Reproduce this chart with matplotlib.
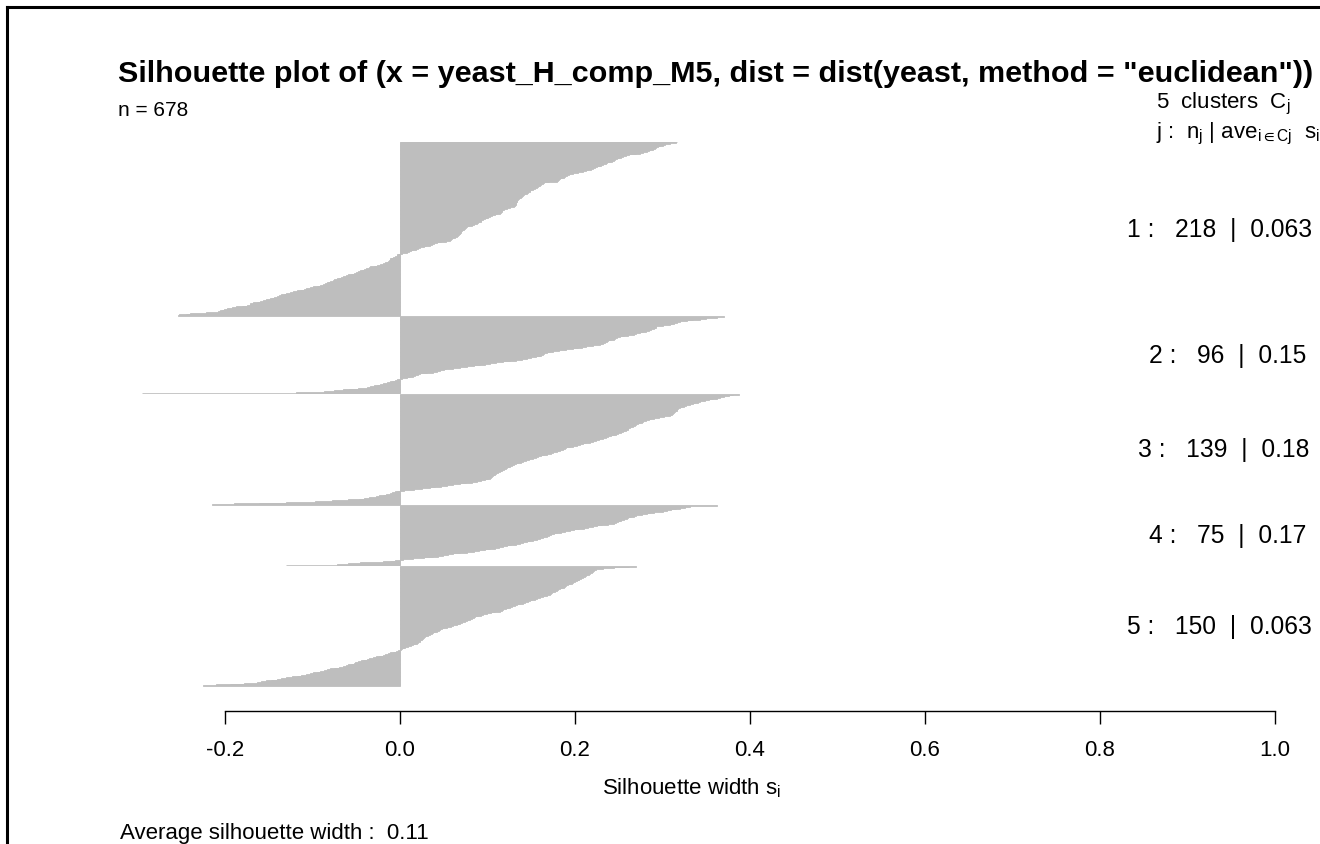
import matplotlib
matplotlib.use("Agg")
import matplotlib.pyplot as plt
import matplotlib.transforms as mtransforms
from matplotlib.lines import Line2D

plt.rcParams['font.family'] = ['Liberation Sans', 'DejaVu Sans']
plt.rcParams['mathtext.fontset'] = 'custom'
plt.rcParams['mathtext.rm'] = 'Liberation Sans'
plt.rcParams['mathtext.it'] = 'Liberation Sans'

# ---------------- data (silhouette widths, sorted within each cluster) ----------------
cluster_ids = [1, 2, 3, 4, 5]
cluster_sizes = [218, 96, 139, 75, 150]
cluster_avg = ["0.063", "0.15", "0.18", "0.17", "0.063"]
avg_width = "0.11"
n_total = 678

c1 = [0.316, 0.315, 0.309, 0.303, 0.300, 0.297, 0.295, 0.293, 0.291, 0.289,
      0.286, 0.284, 0.282, 0.278, 0.274, 0.270, 0.262, 0.258, 0.255, 0.252,
      0.250, 0.248, 0.246, 0.244, 0.242, 0.240, 0.237, 0.235, 0.232, 0.230,
      0.228, 0.225, 0.223, 0.221, 0.218, 0.215, 0.213, 0.209, 0.203, 0.198,
      0.194, 0.193, 0.191, 0.189, 0.187, 0.185, 0.183, 0.182, 0.180, 0.179,
      0.170, 0.164, 0.163, 0.161, 0.160, 0.159, 0.158, 0.156, 0.154, 0.152,
      0.150, 0.149, 0.148, 0.146, 0.145, 0.143, 0.142, 0.141, 0.139, 0.138,
      0.137, 0.136, 0.135, 0.134, 0.134, 0.134, 0.133, 0.133, 0.132, 0.131,
      0.131, 0.130, 0.126, 0.122, 0.119, 0.118, 0.117, 0.116, 0.115, 0.114,
      0.111, 0.108, 0.105, 0.103, 0.101, 0.099, 0.097, 0.095, 0.093, 0.092,
      0.090, 0.089, 0.088, 0.085, 0.082, 0.079, 0.076, 0.075, 0.074, 0.073,
      0.072, 0.071, 0.070, 0.070, 0.069, 0.068, 0.067, 0.066, 0.065, 0.063,
      0.061, 0.059, 0.058, 0.057, 0.052, 0.047, 0.042, 0.039, 0.037, 0.034,
      0.030, 0.027, 0.023, 0.020, 0.018, 0.015, 0.012, 0.010, 0.008, 0.002,
      -0.002, -0.003, -0.004, -0.006, -0.008, -0.010, -0.011, -0.012, -0.013, -0.014,
      -0.015, -0.017, -0.020, -0.023, -0.026, -0.030, -0.034, -0.036, -0.039, -0.041,
      -0.044, -0.046, -0.048, -0.050, -0.053, -0.056, -0.059, -0.062, -0.065, -0.067,
      -0.070, -0.072, -0.075, -0.077, -0.080, -0.082, -0.084, -0.086, -0.088, -0.091,
      -0.095, -0.099, -0.103, -0.107, -0.110, -0.114, -0.118, -0.122, -0.126, -0.130,
      -0.133, -0.136, -0.138, -0.141, -0.144, -0.146, -0.149, -0.153, -0.157, -0.160,
      -0.164, -0.168, -0.171, -0.172, -0.175, -0.181, -0.187, -0.192, -0.198, -0.201,
      -0.204, -0.206, -0.208, -0.222, -0.240, -0.245, -0.252, -0.254]

c2 = [0.370, 0.362, 0.350, 0.343, 0.335, 0.328, 0.320, 0.316, 0.313, 0.311,
      0.309, 0.300, 0.293, 0.292, 0.291, 0.290, 0.287, 0.284, 0.281, 0.278,
      0.274, 0.270, 0.267, 0.261, 0.256, 0.251, 0.248, 0.246, 0.244, 0.241,
      0.238, 0.236, 0.234, 0.232, 0.230, 0.229, 0.221, 0.213, 0.208, 0.203,
      0.198, 0.190, 0.182, 0.175, 0.171, 0.168, 0.164, 0.163, 0.161, 0.160,
      0.155, 0.150, 0.145, 0.139, 0.133, 0.126, 0.118, 0.110, 0.103, 0.097,
      0.091, 0.084, 0.076, 0.068, 0.060, 0.053, 0.050, 0.046, 0.042, 0.038,
      0.031, 0.023, 0.020, 0.017, 0.015, 0.011, 0.008, 0.002,
      -0.003, -0.006, -0.009, -0.012, -0.015, -0.019, -0.023, -0.026, -0.030, -0.034,
      -0.038, -0.048, -0.058, -0.065, -0.076, -0.087, -0.119, -0.295]

c3 = [0.387, 0.381, 0.376, 0.370, 0.366, 0.362, 0.358, 0.353, 0.348, 0.343,
      0.340, 0.337, 0.335, 0.331, 0.327, 0.324, 0.322, 0.320, 0.318, 0.317,
      0.316, 0.315, 0.314, 0.313, 0.312, 0.311, 0.310, 0.309, 0.302, 0.296,
      0.290, 0.287, 0.284, 0.281, 0.278, 0.276, 0.274, 0.272, 0.270, 0.268,
      0.266, 0.264, 0.263, 0.261, 0.260, 0.258, 0.256, 0.255, 0.252, 0.249,
      0.247, 0.244, 0.241, 0.238, 0.235, 0.232, 0.229, 0.227, 0.224, 0.221,
      0.217, 0.213, 0.209, 0.206, 0.202, 0.198, 0.194, 0.190, 0.188, 0.186,
      0.183, 0.181, 0.179, 0.175, 0.172, 0.168, 0.164, 0.161, 0.158, 0.155,
      0.152, 0.149, 0.147, 0.144, 0.141, 0.138, 0.135, 0.133, 0.130, 0.128,
      0.126, 0.124, 0.122, 0.121, 0.119, 0.117, 0.115, 0.114, 0.112, 0.110,
      0.108, 0.107, 0.106, 0.105, 0.104, 0.103, 0.101, 0.097, 0.093, 0.088,
      0.082, 0.075, 0.068, 0.061, 0.054, 0.047, 0.040, 0.034, 0.025, 0.016, 0.004,
      -0.003, -0.006, -0.009, -0.012, -0.016, -0.020, -0.024, -0.028, -0.035, -0.041,
      -0.047, -0.060, -0.078, -0.097, -0.130, -0.161, -0.190, -0.215]

c4 = [0.362, 0.331, 0.326, 0.320, 0.315, 0.310, 0.305, 0.300, 0.290, 0.286,
      0.282, 0.276, 0.270, 0.267, 0.264, 0.261, 0.259, 0.256, 0.253, 0.251,
      0.249, 0.247, 0.244, 0.238, 0.231, 0.225, 0.220, 0.215, 0.210, 0.205,
      0.199, 0.194, 0.189, 0.184, 0.179, 0.176, 0.172, 0.170, 0.168, 0.165,
      0.163, 0.160, 0.156, 0.152, 0.149, 0.145, 0.141, 0.137, 0.132, 0.127,
      0.122, 0.118, 0.113, 0.108, 0.103, 0.097, 0.090, 0.084, 0.077, 0.069,
      0.061, 0.055, 0.049, 0.043, 0.038, 0.027, 0.015, 0.003,
      -0.006, -0.011, -0.020, -0.046, -0.060, -0.072, -0.130]

c5 = [0.270, 0.262, 0.244, 0.232, 0.224, 0.222, 0.221, 0.220, 0.219, 0.217,
      0.216, 0.214, 0.213, 0.211, 0.209, 0.207, 0.205, 0.204, 0.202, 0.200,
      0.198, 0.196, 0.194, 0.192, 0.190, 0.189, 0.187, 0.185, 0.183, 0.181,
      0.179, 0.177, 0.175, 0.174, 0.172, 0.171, 0.168, 0.165, 0.163, 0.160,
      0.157, 0.154, 0.151, 0.149, 0.146, 0.143, 0.140, 0.137, 0.134, 0.131,
      0.128, 0.126, 0.123, 0.121, 0.118, 0.116, 0.114, 0.109, 0.104, 0.099,
      0.095, 0.092, 0.089, 0.086, 0.084, 0.082, 0.080, 0.078, 0.076, 0.074,
      0.071, 0.069, 0.067, 0.065, 0.061, 0.058, 0.054, 0.050, 0.048, 0.046,
      0.044, 0.042, 0.040, 0.038, 0.036, 0.034, 0.032, 0.030, 0.029, 0.027,
      0.026, 0.025, 0.024, 0.023, 0.023, 0.021, 0.019, 0.017, 0.015, 0.012,
      0.009, 0.006, 0.004, 0.002, 0.001,
      -0.002, -0.005, -0.008, -0.011, -0.014, -0.017, -0.020, -0.024, -0.027, -0.031,
      -0.035, -0.038, -0.042, -0.045, -0.048, -0.051, -0.053, -0.056, -0.059, -0.062,
      -0.065, -0.070, -0.075, -0.080, -0.084, -0.087, -0.091, -0.095, -0.099, -0.103,
      -0.108, -0.113, -0.118, -0.124, -0.130, -0.136, -0.141, -0.147, -0.153, -0.159,
      -0.164, -0.178, -0.194, -0.210, -0.225]

clusters = [c1, c2, c3, c4, c5]
x_ticks = [-0.2, 0.0, 0.2, 0.4, 0.6, 0.8, 1.0]
x_ticklabels = ["-0.2", "0.0", "0.2", "0.4", "0.6", "0.8", "1.0"]
title = 'Silhouette plot of (x = yeast_H_comp_M5, dist = dist(yeast, method = "euclidean"))'

# ---------------- figure ----------------
W, H = 1320, 845
fig = plt.figure(figsize=(W / 100, H / 100), dpi=100)
fig.patch.set_facecolor('white')

def fx(px):
    return px / W

def fy(py):
    return 1 - py / H

ax_top_px, ax_bot_px = 130, 712
ax = fig.add_axes([0, fy(ax_bot_px), 1, (ax_bot_px - ax_top_px) / H])

gap = 0.5
ys, xs, centers = [], [], []
offset = 0.0
for ci, vals in enumerate(clusters):
    start = offset
    for j, v in enumerate(vals):
        ys.append(offset + j + 0.5)
        xs.append(v)
    offset += len(vals)
    centers.append((start + offset) / 2)
    offset += gap
total = offset - gap

bar_col = '#BEBEBE'
ax.barh(ys, xs, height=1.0, color=bar_col, edgecolor=bar_col, linewidth=0.6)

# pixel mapping: x=0 at 400 px, 0.2 per 175 px
x0_px, px_per_unit = 400, 875
ax.set_xlim(-x0_px / px_per_unit, (W - x0_px) / px_per_unit)
top_bar_px, bot_bar_px = 142.5, 687
ppu = (bot_bar_px - top_bar_px) / total
ax.set_ylim(total + (ax_bot_px - bot_bar_px) / ppu, -(top_bar_px - ax_top_px) / ppu)

for s in ['top', 'right', 'left']:
    ax.spines[s].set_visible(False)
ax.spines['bottom'].set_bounds(-0.2, 1.0)
ax.spines['bottom'].set_linewidth(1.0)
ax.set_yticks([])
ax.set_xticks(x_ticks)
ax.set_xticklabels(x_ticklabels, fontsize=16)
ax.tick_params(axis='x', direction='out', length=9, width=1.0, pad=11, colors='black')
ax.set_facecolor('none')

# title, auto-fit width
t = fig.text(fx(118), fy(82), title, fontsize=18, fontweight='bold', ha='left', va='baseline')
fig.canvas.draw()
bb = t.get_window_extent()
t.set_fontsize(18 * (1312 - 118) / bb.width)

fs = 16
fig.text(fx(118), fy(110), "n = 678", fontsize=15, ha='left', va='center')
fig.text(fx(1290), fy(104), r"5  clusters  $\mathregular{C_j}$", fontsize=fs, ha='right', va='center')
fig.text(fx(1320), fy(134), r"j :  $\mathregular{n_j}$ | $\mathregular{ave_{i\in Cj}}$  $\mathregular{s_i}$",
         fontsize=fs, ha='right', va='center')

# cluster labels: like R's text(1, y, ..., adj = 0.8)
btr = mtransforms.blended_transform_factory(fig.transFigure, ax.transData)
x_one_px = x0_px + px_per_unit * 1.0
labels = [f"{cid} :   {n}  |  {a}" for cid, n, a in zip(cluster_ids, cluster_sizes, cluster_avg)]
probe = fig.text(0, 0, labels[0], fontsize=18)
fig.canvas.draw()
lab_fs = 18 * 185 / probe.get_window_extent().width
probe.remove()
for lab, c in zip(labels, centers):
    tt = ax.text(0, c, lab, transform=btr, fontsize=lab_fs, ha='left', va='center', clip_on=False)
    fig.canvas.draw()
    w = tt.get_window_extent().width
    tt.set_x(fx(x_one_px - 0.8 * w))

fig.text(fx(692), fy(788), r"Silhouette width $\mathregular{s_i}$", fontsize=fs, ha='center', va='center')
fig.text(fx(120), fy(834), f"Average silhouette width :  {avg_width}", fontsize=fs, ha='left', va='center')

# outer frame (left and top visible)
fig.add_artist(Line2D([fx(7), fx(7)], [fy(8), 0], transform=fig.transFigure, color='black', lw=2.2))
fig.add_artist(Line2D([fx(7), 1], [fy(8), fy(8)], transform=fig.transFigure, color='black', lw=2.2))

fig.savefig("out.png", dpi=100, facecolor='white')
